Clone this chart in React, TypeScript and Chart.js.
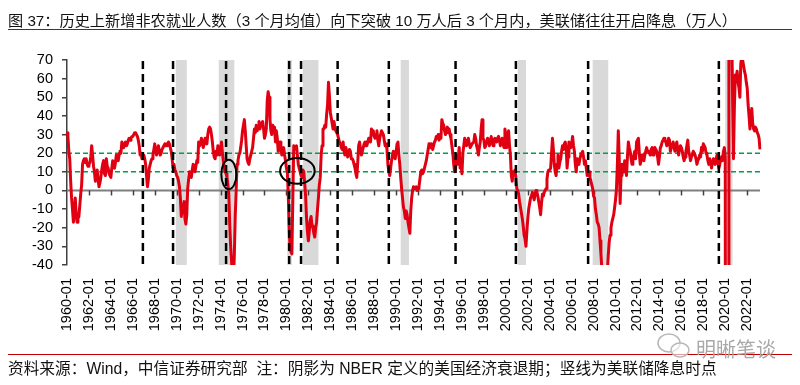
import React, { useEffect, useRef } from 'react';
import { Chart, registerables } from 'chart.js';

Chart.register(...registerables);

// 新增非农就业人数（3个月均值，万人），1960-01 起按月
const payrolls1960s = [
  31, 29, 21, 17, 5, -4, -10, -17, -12, -4, -12, -17,
  -15, -14, -8, -2, 3, 14, 16, 17, 15, 17, 14, 13,
  14, 15, 18, 24, 19, 13, 10, 5, 8, 11, 6, 2,
  4, 7, 11, 14, 16, 9, 8, 17, 13, 12, 9, 8,
  7, 12, 16, 13, 12, 15, 19, 17, 16, 19, 21, 20,
  26, 24, 23, 25, 26, 24, 25, 27, 28, 27, 28, 29,
  29, 30, 31, 31, 30, 29, 27, 24, 19, 20, 17, 18,
  19, 17, 14, 8, 2, 6, 12, 14, 16, 17, 19, 22,
  25, 21, 19, 22, 24, 21, 19, 20, 22, 22, 24, 25,
  24, 25, 24, 26, 25, 23, 21, 17, 12, 14, 11, 10,
];
const payrolls1970s = [
  8, 7, 5, 2, -4, -14, -10, -9, -6, -15, -18, -13,
  1, 6, 10, 8, 7, 11, 14, 12, 10, 13, 16, 15,
  26, 24, 25, 28, 26, 23, 25, 28, 27, 25, 30, 33,
  34, 33, 30, 26, 21, 18, 17, 21, 19, 24, 22, 19,
  22, 26, 20, 16, 12, 10, 9, 7, 3, -2, -18, -30,
  -38, -47, -50, -35, -14, 0, 14, 16, 19, 20, 23, 27,
  32, 35, 38, 32, 24, 17, 15, 14, 17, 19, 21, 23,
  28, 33, 31, 35, 32, 34, 37, 33, 35, 36, 37, 33,
  28, 30, 33, 48, 53, 50, 38, 32, 30, 35, 32, 34,
  26, 32, 28, 21, 24, 26, 22, 19, 21, 23, 19, 16,
];
const payrolls1980s = [
  12, 10, -2, -20, -31, -33, -34, -5, 24, 22, 23, 24,
  19, 14, 12, 10, 8, 7, 11, 10, 4, -3, -15, -22,
  -27, -22, -16, -14, -19, -20, -23, -25, -20, -17, -10, -4,
  3, 7, 19, 24, 33, 33, 35, 34, 41, 46, 58, 51,
  42, 39, 36, 33, 37, 34, 32, 31, 30, 28, 26, 25,
  23, 22, 26, 21, 19, 23, 21, 18, 19, 22, 21, 17,
  17, 16, 14, 12, 9, 7, 15, 24, 26, 22, 19, 21,
  23, 25, 26, 24, 24, 26, 28, 27, 26, 33, 30, 32,
  29, 28, 30, 32, 27, 24, 28, 30, 32, 31, 30, 27,
  24, 25, 22, 14, 10, 8, 12, 16, 19, 21, 18, 17,
];
const payrolls1990s = [
  21, 25, 26, 19, 14, 7, 1, -4, -9, -11, -15, -11,
  -13, -17, -20, -23, -11, -4, 0, 2, 1, 1, 2, 0,
  1, 2, 6, 10, 11, 9, 10, 12, 14, 16, 19, 22,
  25, 24, 23, 25, 22, 24, 26, 27, 29, 28, 30, 27,
  30, 28, 38, 36, 35, 32, 30, 32, 34, 31, 33, 30,
  28, 24, 20, 14, 10, 12, 19, 14, 18, 23, 12, 14,
  9, 20, 24, 28, 26, 24, 26, 28, 25, 23, 24, 25,
  25, 26, 30, 28, 24, 22, 19, 23, 26, 33, 38, 28,
  27, 23, 24, 26, 28, 27, 24, 26, 29, 26, 24, 27,
  28, 27, 26, 28, 29, 27, 24, 26, 28, 25, 23, 33,
];
const payrolls2000s = [
  30, 23, 27, 32, 24, 19, 8, 5, 10, 10, 11, 7,
  1, 0, -2, -6, -9, -12, -15, -19, -24, -26, -30, -22,
  -15, -10, -7, -4, -3, -1, -3, -5, -2, 0, -1, -3,
  -6, -9, -13, -7, -2, -3, -1, 0, 1, 6, 10, 11,
  11, 12, 20, 28, 22, 14, 10, 8, 14, 19, 12, 15,
  17, 21, 24, 22, 25, 26, 23, 12, 18, 26, 24, 23,
  25, 29, 24, 21, 14, 10, 17, 15, 14, 17, 19, 20,
  21, 18, 14, 16, 12, 8, 9, 10, 7, 5, 3, 1,
  -3, -4, -10, -13, -17, -18, -20, -27, -34, -42, -55, -65,
  -72, -75, -68, -44, -35, -28, -24, -20, -17, -15, -13, -9,
];
const payrolls2010s = [
  -5, 1, 14, 32, 18, -7, 8, 14, 11, 10, 16, 12,
  8, 18, 26, 23, 21, 17, 14, 17, 19, 21, 17, 26,
  27, 28, 20, 14, 16, 19, 17, 16, 19, 21, 23, 21,
  21, 20, 19, 22, 23, 19, 20, 23, 22, 21, 18, 14,
  18, 23, 24, 26, 27, 28, 27, 26, 24, 25, 28, 27,
  21, 23, 24, 26, 23, 21, 24, 26, 22, 19, 22, 24,
  23, 21, 18, 16, 18, 21, 24, 27, 21, 19, 16, 18,
  19, 21, 20, 19, 17, 14, 16, 17, 19, 18, 23, 21,
  25, 24, 23, 20, 19, 16, 14, 17, 15, 12, 15, 17,
  16, 14, 17, 19, 15, 12, 14, 17, 18, 16, 21, 23,
];
const payrolls2020s = [
  18, -700, -640, -430, 310, 270, 130, 90, 50, 17, 45, 62,
  60, 64, 58, 55, 50, 68, 72, 70, 67, 64, 62, 58,
  55, 46, 40, 33, 40, 44, 36, 33, 32, 34, 33, 31,
  30, 28, 22,
];

const payrolls = [
  ...payrolls1960s, ...payrolls1970s, ...payrolls1980s, ...payrolls1990s,
  ...payrolls2000s, ...payrolls2010s, ...payrolls2020s,
];

const START_YEAR = 1960;
const monthLabels = payrolls.map((_, i) =>
  `${START_YEAR + Math.floor(i / 12)}-${String((i % 12) + 1).padStart(2, '0')}`
);

// NBER 衰退期（阴影）
const recessionStarts = ['1969-12', '1973-11', '1980-02', '1981-07', '1990-06', '2001-02', '2007-12', '2020-01'];
const recessionEnds = ['1970-12', '1975-04', '1980-07', '1982-12', '1991-03', '2001-11', '2009-05', '2020-09'];

// 美联储降息时点（竖线）
const fedCutMonths = ['1966-12', '1969-09', '1974-07', '1980-04', '1981-05', '1984-09', '1989-05', '1995-06', '2000-12', '2007-07', '2019-06'];

// 参考水平线（万人）
const referenceLevels = [10, 20];

// 圈注
const highlightMonths = ['1974-10', '1981-01'];
const highlightValues = [8.6, 10.5];

const Y_MIN = -40;
const Y_MAX = 70;
const Y_STEP = 10;

const FONT = "'Liberation Sans', Arial, 'Noto Sans CJK SC', sans-serif";

const isMajorLabel = (l: string) =>
  l.endsWith('-01') && (parseInt(l.slice(0, 4), 10) - START_YEAR) % 2 === 0;

const overlayPlugin = {
  id: 'overlay',
  beforeDatasetsDraw(chart: any) {
    const { ctx, chartArea: a, scales } = chart;
    const xs = scales.x;
    const ys = scales.y;
    ctx.save();
    ctx.fillStyle = '#d9d9d9';
    recessionStarts.forEach((s, k) => {
      const x1 = xs.getPixelForValue(monthLabels.indexOf(s));
      const x2 = xs.getPixelForValue(monthLabels.indexOf(recessionEnds[k]));
      ctx.fillRect(x1, a.top, x2 - x1, a.bottom - a.top);
    });
    // green reference lines
    ctx.strokeStyle = '#00a04a';
    ctx.lineWidth = 1.5;
    ctx.setLineDash([5, 3]);
    referenceLevels.forEach((v) => {
      const yy = ys.getPixelForValue(v);
      ctx.beginPath();
      ctx.moveTo(a.left, yy);
      ctx.lineTo(a.right, yy);
      ctx.stroke();
    });
    ctx.setLineDash([]);
    // zero axis with tick marks
    const y0 = ys.getPixelForValue(0);
    ctx.strokeStyle = '#7f7f7f';
    ctx.lineWidth = 2;
    ctx.beginPath();
    ctx.moveTo(a.left, y0);
    ctx.lineTo(a.right, y0);
    ctx.stroke();
    ctx.lineWidth = 1.5;
    ctx.strokeStyle = '#404040';
    monthLabels.forEach((l, i) => {
      if (!isMajorLabel(l) || i === 0) return;
      const xx = Math.round(xs.getPixelForValue(i)) + 0.5;
      ctx.beginPath();
      ctx.moveTo(xx, y0);
      ctx.lineTo(xx, y0 + 5);
      ctx.stroke();
    });
    ctx.restore();
  },
  afterDatasetsDraw(chart: any) {
    const { ctx, chartArea: a, scales } = chart;
    const xs = scales.x;
    const ys = scales.y;
    ctx.save();
    ctx.strokeStyle = '#000';
    ctx.lineWidth = 2.5;
    ctx.setLineDash([8, 5]);
    fedCutMonths.forEach((m) => {
      const xx = xs.getPixelForValue(monthLabels.indexOf(m));
      ctx.beginPath();
      ctx.moveTo(xx, a.top + 1);
      ctx.lineTo(xx, a.bottom);
      ctx.stroke();
    });
    ctx.setLineDash([]);
    ctx.lineWidth = 2;
    const radiiMonths = [8.2, 18.9];
    const radiiValues = [7.9, 6.9];
    highlightMonths.forEach((m, k) => {
      const i = monthLabels.indexOf(m);
      const cx = xs.getPixelForValue(i);
      const cy = ys.getPixelForValue(highlightValues[k]);
      const rx = Math.abs(xs.getPixelForValue(i + radiiMonths[k]) - cx);
      const ry = Math.abs(ys.getPixelForValue(highlightValues[k] + radiiValues[k]) - cy);
      ctx.beginPath();
      ctx.ellipse(cx, cy, rx, ry, 0, 0, Math.PI * 2);
      ctx.stroke();
    });
    ctx.restore();
  },
};

function PayrollChart() {
  const ref = useRef<HTMLCanvasElement | null>(null);
  useEffect(() => {
    if (!ref.current) return;
    const chart = new Chart(ref.current, {
      type: 'line',
      data: {
        labels: monthLabels,
        datasets: [
          {
            data: payrolls,
            borderColor: '#e00012',
            borderWidth: 3,
            pointRadius: 0,
            tension: 0,
            fill: false,
            borderJoinStyle: 'round',
          },
        ],
      },
      options: {
        animation: false,
        responsive: false,
        devicePixelRatio: 1,
        layout: { padding: { top: 60, right: 40, left: 0, bottom: 0 } },
        plugins: { legend: { display: false }, tooltip: { enabled: false } },
        events: [],
        scales: {
          x: {
            type: 'category',
            grid: { display: false, drawTicks: false },
            border: { display: false },
            ticks: {
              autoSkip: false,
              maxRotation: 90,
              minRotation: 90,
              padding: 13,
              color: '#000',
              font: { family: FONT, size: 14.5 },
              callback(value: any) {
                const l = monthLabels[value as number];
                return isMajorLabel(l) ? l : null;
              },
            },
            afterFit(s: any) {
              s.height = 120;
            },
          },
          y: {
            min: Y_MIN,
            max: Y_MAX,
            ticks: {
              stepSize: Y_STEP,
              autoSkip: false,
              color: '#000',
              padding: 9,
              font: { family: FONT, size: 14.5 },
            },
            grid: {
              drawOnChartArea: false,
              drawTicks: true,
              tickLength: 5,
              color: '#404040',
              lineWidth: 1.5,
            },
            border: { display: true, color: '#404040', width: 1.5 },
            afterFit(s: any) {
              s.width = 67;
            },
          },
        },
      } as any,
      plugins: [overlayPlugin],
    });
    return () => chart.destroy();
  }, []);
  return (
    <canvas
      ref={ref}
      width={800}
      height={385}
      style={{ position: 'absolute', left: 0, top: 0, width: 800, height: 385 }}
    />
  );
}

export default function App() {
  const textFont = "'Liberation Sans', Arial, 'Noto Sans CJK SC', sans-serif";
  return (
    <div
      style={{
        position: 'absolute',
        left: 0,
        top: 0,
        width: 800,
        height: 385,
        background: '#fff',
        overflow: 'hidden',
        fontFamily: textFont,
      }}
    >
      <PayrollChart />
      <div
        style={{
          position: 'absolute',
          left: 8,
          top: 11,
          fontSize: 15.2,
          lineHeight: '20px',
          color: '#111',
          whiteSpace: 'nowrap',
        }}
      >
        图 37：历史上新增非农就业人数（3 个月均值）向下突破 10 万人后 3 个月内，美联储往往开启降息（万人）
      </div>
      <div style={{ position: 'absolute', left: 8, top: 29, width: 784, height: 1, background: '#c00000' }} />
      <div style={{ position: 'absolute', left: 8, top: 354, width: 784, height: 1, background: '#c00000' }} />
      <div
        style={{
          position: 'absolute',
          left: 8,
          top: 359,
          fontSize: 15.7,
          lineHeight: '20px',
          color: '#111',
          whiteSpace: 'pre',
        }}
      >
        资料来源：Wind，中信证券研究部  注：阴影为 NBER 定义的美国经济衰退期；竖线为美联储降息时点
      </div>
      <svg
        width={40}
        height={30}
        style={{ position: 'absolute', left: 654, top: 331 }}
      >
        <ellipse cx={15} cy={12} rx={11} ry={9} fill="rgba(255,255,255,0.6)" stroke="#b8b8b8" strokeWidth={1.5} />
        <ellipse cx={26} cy={19} rx={9} ry={7} fill="rgba(255,255,255,0.6)" stroke="#b8b8b8" strokeWidth={1.5} />
      </svg>
      <div
        style={{
          position: 'absolute',
          left: 696,
          top: 337,
          fontSize: 20,
          lineHeight: '24px',
          color: '#a8a8a8',
          whiteSpace: 'nowrap',
          fontFamily: "'Noto Sans CJK SC', sans-serif",
        }}
      >
        明晰笔谈
      </div>
    </div>
  );
}
